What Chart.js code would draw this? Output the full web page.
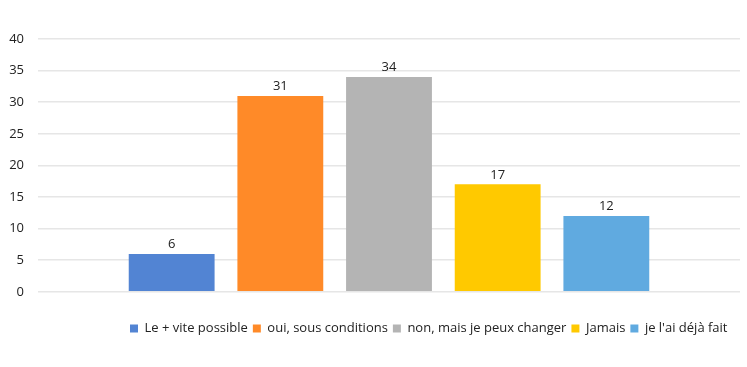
<!DOCTYPE html>
<html>
<head>
<meta charset="utf-8">
<script src="https://cdn.jsdelivr.net/npm/chart.js@4"></script>
<style>
  html, body { margin: 0; padding: 0; background: #fff; }
  #wrap { width: 747px; height: 367px; }
</style>
</head>
<body>
<div id="wrap"><canvas id="chart" width="747" height="367"></canvas></div>
<script>
// answers and counts
const answers = ['Le + vite possible', 'oui, sous conditions', 'non, mais je peux changer', 'Jamais', "je l'ai déjà fait"];
const counts = [6, 31, 34, 17, 12];
const colors = ['#5284D3', '#FF8A28', '#B4B4B4', '#FFC900', '#60AAE0'];
const yTicks = [0, 5, 10, 15, 20, 25, 30, 35, 40];

const FONT = '"Open Sans", "Liberation Sans", sans-serif';

// draws the value above each bar
const valueLabels = {
    id: 'valueLabels',
    afterDatasetsDraw(chart) {
        const ctx = chart.ctx;
        ctx.save();
        ctx.font = '13px ' + FONT;
        ctx.fillStyle = '#222';
        ctx.textAlign = 'center';
        ctx.textBaseline = 'bottom';
        chart.data.datasets.forEach((ds, i) => {
            const bar = chart.getDatasetMeta(i).data[0];
            ctx.fillText(ds.data[0], bar.x, bar.y - 3);
        });
        ctx.restore();
    }
};

// the original legend sits right of centre, move its start
const legendShift = {
    id: 'legendShift',
    afterLayout(chart) {
        chart.legend.left = 125;
    }
};

const datasets = answers.map((name, i) => ({
    label: name,
    data: [counts[i]],
    backgroundColor: colors[i],
    categoryPercentage: 0.774,
    barPercentage: 0.79
}));

new Chart(document.getElementById('chart'), {
    type: 'bar',
    data: { labels: [''], datasets: datasets },
    options: {
        responsive: false,
        animation: false,
        layout: { padding: { left: 6, right: 7, top: 39, bottom: 22 } },
        scales: {
            x: {
                grid: { display: false },
                border: { display: false },
                ticks: { display: false },
                // empty title only used as spacing between bars and legend
                title: { display: true, text: ' ', font: { size: 1 }, padding: { top: 16, bottom: 0 } }
            },
            y: {
                min: 0,
                max: 40,
                afterBuildTicks(axis) {
                    axis.ticks = yTicks.map(v => ({ value: v }));
                },
                afterFit(axis) { axis.width = 32; },
                grid: { color: '#E6E6E6', lineWidth: 1.5, drawTicks: false },
                border: { display: false },
                ticks: {
                    padding: 14,
                    color: '#222',
                    font: { family: FONT, size: 13 }
                }
            }
        },
        plugins: {
            legend: {
                position: 'bottom',
                align: 'start',
                labels: {
                    boxWidth: 8,
                    boxHeight: 8,
                    padding: 5,
                    color: '#222',
                    font: { family: FONT, size: 13 }
                }
            },
            tooltip: { enabled: false }
        }
    },
    plugins: [valueLabels, legendShift]
});
</script>
</body>
</html>
